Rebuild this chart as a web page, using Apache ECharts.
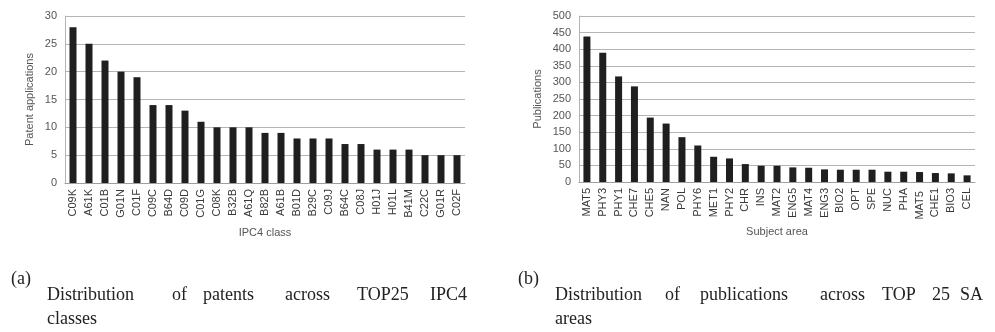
<!DOCTYPE html>
<html><head><meta charset="utf-8">
<script src="https://cdn.jsdelivr.net/npm/echarts@6/dist/echarts.min.js"></script>
<style>html,body{margin:0;padding:0;background:#fff}#c{width:995px;height:332px}</style>
</head><body><div id="c"></div>
<script>
const ipcClasses = ['C09K','A61K','C01B','G01N','C01F','C09C','B64D','C09D','C01G','C08K','B32B','A61Q','B82B','A61B','B01D','B29C','C09J','B64C','C08J','H01J','H01L','B41M','C22C','G01R','C02F'];
const patentCounts = [28,25,22,20,19,14,14,13,11,10,10,10,9,9,8,8,8,7,7,6,6,6,5,5,5];
const subjectAreas = ['MAT5','PHY3','PHY1','CHE7','CHE5','NAN','POL','PHY6','MET1','PHY2','CHR','INS','MAT2','ENG5','MAT4','ENG3','BIO2','OPT','SPE','NUC','PHA','MAT5 ','CHE1','BIO3','CEL'];
const publicationCounts = [438,389,318,288,194,176,135,110,76,71,54,49,49,44,43,38,37,37,37,31,31,30,27,26,20];
const patentTicks = {min:0, max:30, interval:5};
const pubTicks = {min:0, max:500, interval:50};

const sans = 'Liberation Sans';
const lblColor = '#555';
const gridColor = '#b4b4b4';
function xAxis(idx, data, name, nameGap){
  return {type:'category', gridIndex:idx, data:data, name:name, nameLocation:'middle', nameGap:nameGap,
    nameTextStyle:{fontFamily:sans, fontSize:11, color:lblColor},
    axisLine:{lineStyle:{color:'#a0a0a0', width:1}}, axisTick:{show:false},
    axisLabel:{rotate:90, fontFamily:sans, fontSize:11, color:'#383838', margin:6, interval:0}};
}
function yAxis(idx, t, name, nameGap){
  return {type:'value', gridIndex:idx, min:t.min, max:t.max, interval:t.interval, name:name,
    nameLocation:'middle', nameGap:nameGap, nameTextStyle:{fontFamily:sans, fontSize:11, color:lblColor},
    axisLine:{show:true, lineStyle:{color:gridColor}}, axisTick:{show:false},
    axisLabel:{fontFamily:sans, fontSize:11, color:lblColor, margin:8},
    splitLine:{lineStyle:{color:gridColor, width:1}}};
}
const serif = 'Liberation Serif';
function word(x, y, t){ return {type:'text', left:x, top:y, style:{text:t, fontFamily:serif, fontSize:18, fill:'#222'}}; }
const chart = echarts.init(document.getElementById('c'), null, {renderer:'canvas'});
chart.setOption({
  animation:false,
  grid:[{left:65, right:530, top:16, bottom:149}, {left:579, right:20, top:16, bottom:150}],
  xAxis:[xAxis(0, ipcClasses, 'IPC4 class', 44), xAxis(1, subjectAreas, 'Subject area', 44)],
  yAxis:[yAxis(0, patentTicks, 'Patent applications', 30), yAxis(1, pubTicks, 'Publications', 36)],
  series:[
    {type:'bar', xAxisIndex:0, yAxisIndex:0, data:patentCounts, barWidth:7, itemStyle:{color:'#1f1f1f'}},
    {type:'bar', xAxisIndex:1, yAxisIndex:1, data:publicationCounts, barWidth:7, itemStyle:{color:'#1f1f1f'}}
  ],
  graphic:[
    word(11, 270, '(a)'),
    word(47, 286, 'Distribution'), word(172, 286, 'of'), word(203, 286, 'patents'),
    word(285, 286, 'across'), word(357, 286, 'TOP25'), word(430, 286, 'IPC4'),
    word(47, 310, 'classes'),
    word(518, 270, '(b)'),
    word(555, 286, 'Distribution'), word(665, 286, 'of'), word(700, 286, 'publications'),
    word(820, 286, 'across'), word(882, 286, 'TOP'), word(932, 286, '25'), word(960, 286, 'SA'),
    word(555, 310, 'areas')
  ]
});
</script></body></html>
